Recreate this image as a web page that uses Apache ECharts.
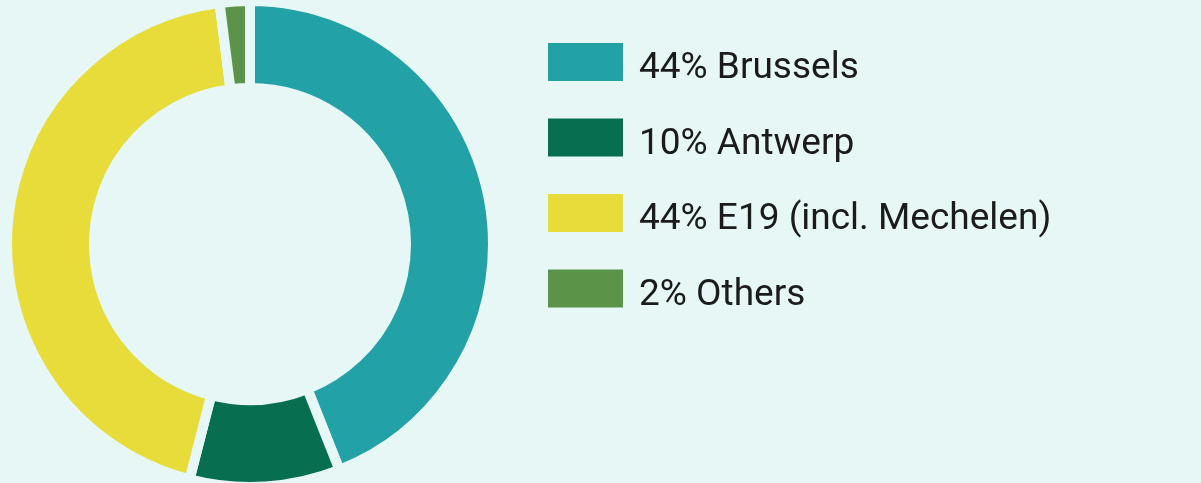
<!DOCTYPE html>
<html>
<head>
<meta charset="utf-8">
<script src="https://cdn.jsdelivr.net/npm/echarts@6/dist/echarts.min.js"></script>
<style>
html,body{margin:0;padding:0;background:#e6f7f5;}
#c{width:1201px;height:483px;}
</style>
</head>
<body>
<div id="c"></div>
<script>
const categories = ['Brussels', 'Antwerp', 'E19 (incl. Mechelen)', 'Others'];
const shares = [44, 10, 44, 2];
const colors = ['#22a1a7', '#076f4f', '#e8dc3a', '#5b9448'];

const chart = echarts.init(document.getElementById('c'), null, {renderer: 'canvas'});
const data = categories.map((c, i) => ({
  name: shares[i] + '% ' + c,
  value: shares[i],
  itemStyle: {color: colors[i]}
}));
chart.setOption({
  backgroundColor: '#e6f7f5',
  animation: false,
  legend: {
    orient: 'vertical',
    left: 541,
    top: 36,
    itemWidth: 77,
    itemHeight: 40,
    itemGap: 29,
    icon: 'rect',
    selectedMode: false,
    formatter: n => '{s| }\n{t|' + n + '}',
    textStyle: {
      fontFamily: 'Roboto',
      fontSize: 37,
      color: '#1b1b1b',
      rich: {
        s: {fontSize: 2, lineHeight: 14},
        t: {fontFamily: 'Roboto', fontSize: 37, lineHeight: 40, color: '#1b1b1b', padding: [0, 0, 0, 10]}
      }
    },
    data: data.map(d => d.name)
  },
  series: [{
    type: 'pie',
    center: [250, 244],
    radius: [156, 243],
    startAngle: 90,
    clockwise: true,
    label: {show: false},
    labelLine: {show: false},
    emphasis: {disabled: true},
    itemStyle: {borderColor: '#e6f7f5', borderWidth: 10},
    data: data
  }]
});
</script>
</body>
</html>
